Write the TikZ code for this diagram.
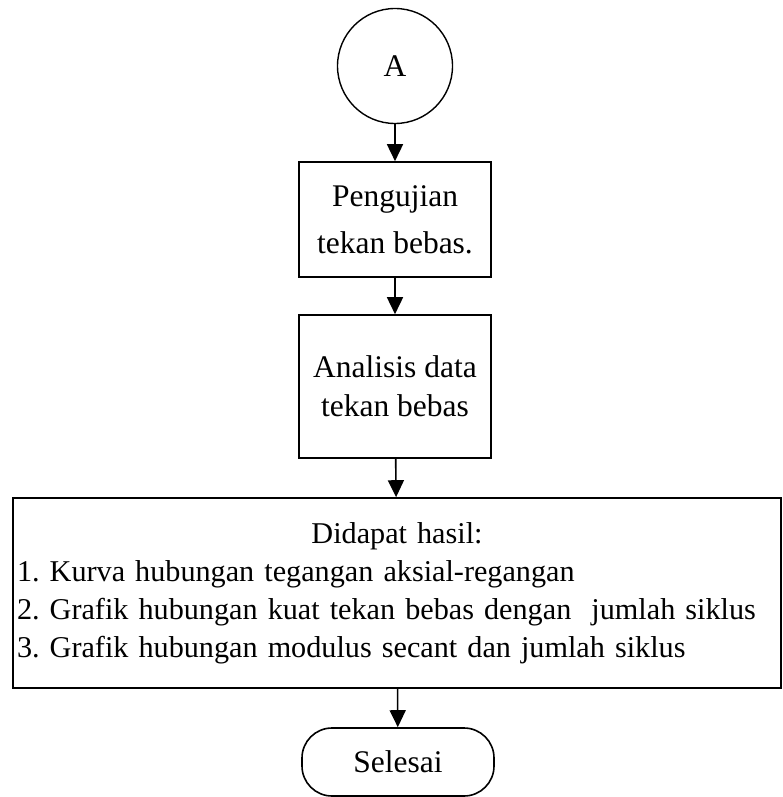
\documentclass[tikz,border=0pt]{standalone}
\usepackage{fontspec}
\setmainfont{Liberation Serif}
\usetikzlibrary{arrows.meta,shapes.geometric}
\frenchspacing
\tikzset{
    proses/.style={draw,line width=1.6pt,minimum width=192pt,inner sep=0pt,align=center},
    konektor/.style={draw,circle,line width=1.4pt,minimum size=115pt,inner sep=0pt},
    terminal/.style={draw,line width=1.6pt,rounded corners=30pt,minimum width=192pt,minimum height=68pt,inner sep=0pt},
    panah/.style={-{Triangle[width=16pt,length=17pt]},line width=1.6pt}
}
\begin{document}
\begin{tikzpicture}[x=1pt,y=-1pt,font=\fontsize{31.5}{38}\selectfont]
            \useasboundingbox (0,0) rectangle (782,797);
            \node[konektor] (A) at (395,66) {A};
            \node[proses,minimum height=115pt,font=\fontsize{31.5}{47}\selectfont] (uji) at (395,219.5) {Pengujian\\tekan bebas.};
            \node[proses,minimum height=190pt,text width=760pt,inner xsep=4pt,align=left,font=\fontsize{30.2}{38}\selectfont] (hasil) at (397,593) {\makebox[760pt]{Didapat hasil:}\\1. Kurva hubungan tegangan aksial-regangan\\2. Grafik hubungan kuat tekan bebas dengan\ \ jumlah siklus\\3. Grafik hubungan modulus secant dan jumlah siklus};
            \node[proses,minimum height=143pt,font=\fontsize{31.5}{39}\selectfont] (analisis) at (395,386.5) {Analisis data\\tekan bebas};
            \node[terminal] (selesai) at (398,762) {Selesai};
            \draw[panah] (A) -- (uji);
            \draw[panah] (uji) -- (analisis);
            \draw[panah] (analisis) -- (hasil);
            \draw[panah] (hasil) -- (selesai);
        \end{tikzpicture}
\end{document}
